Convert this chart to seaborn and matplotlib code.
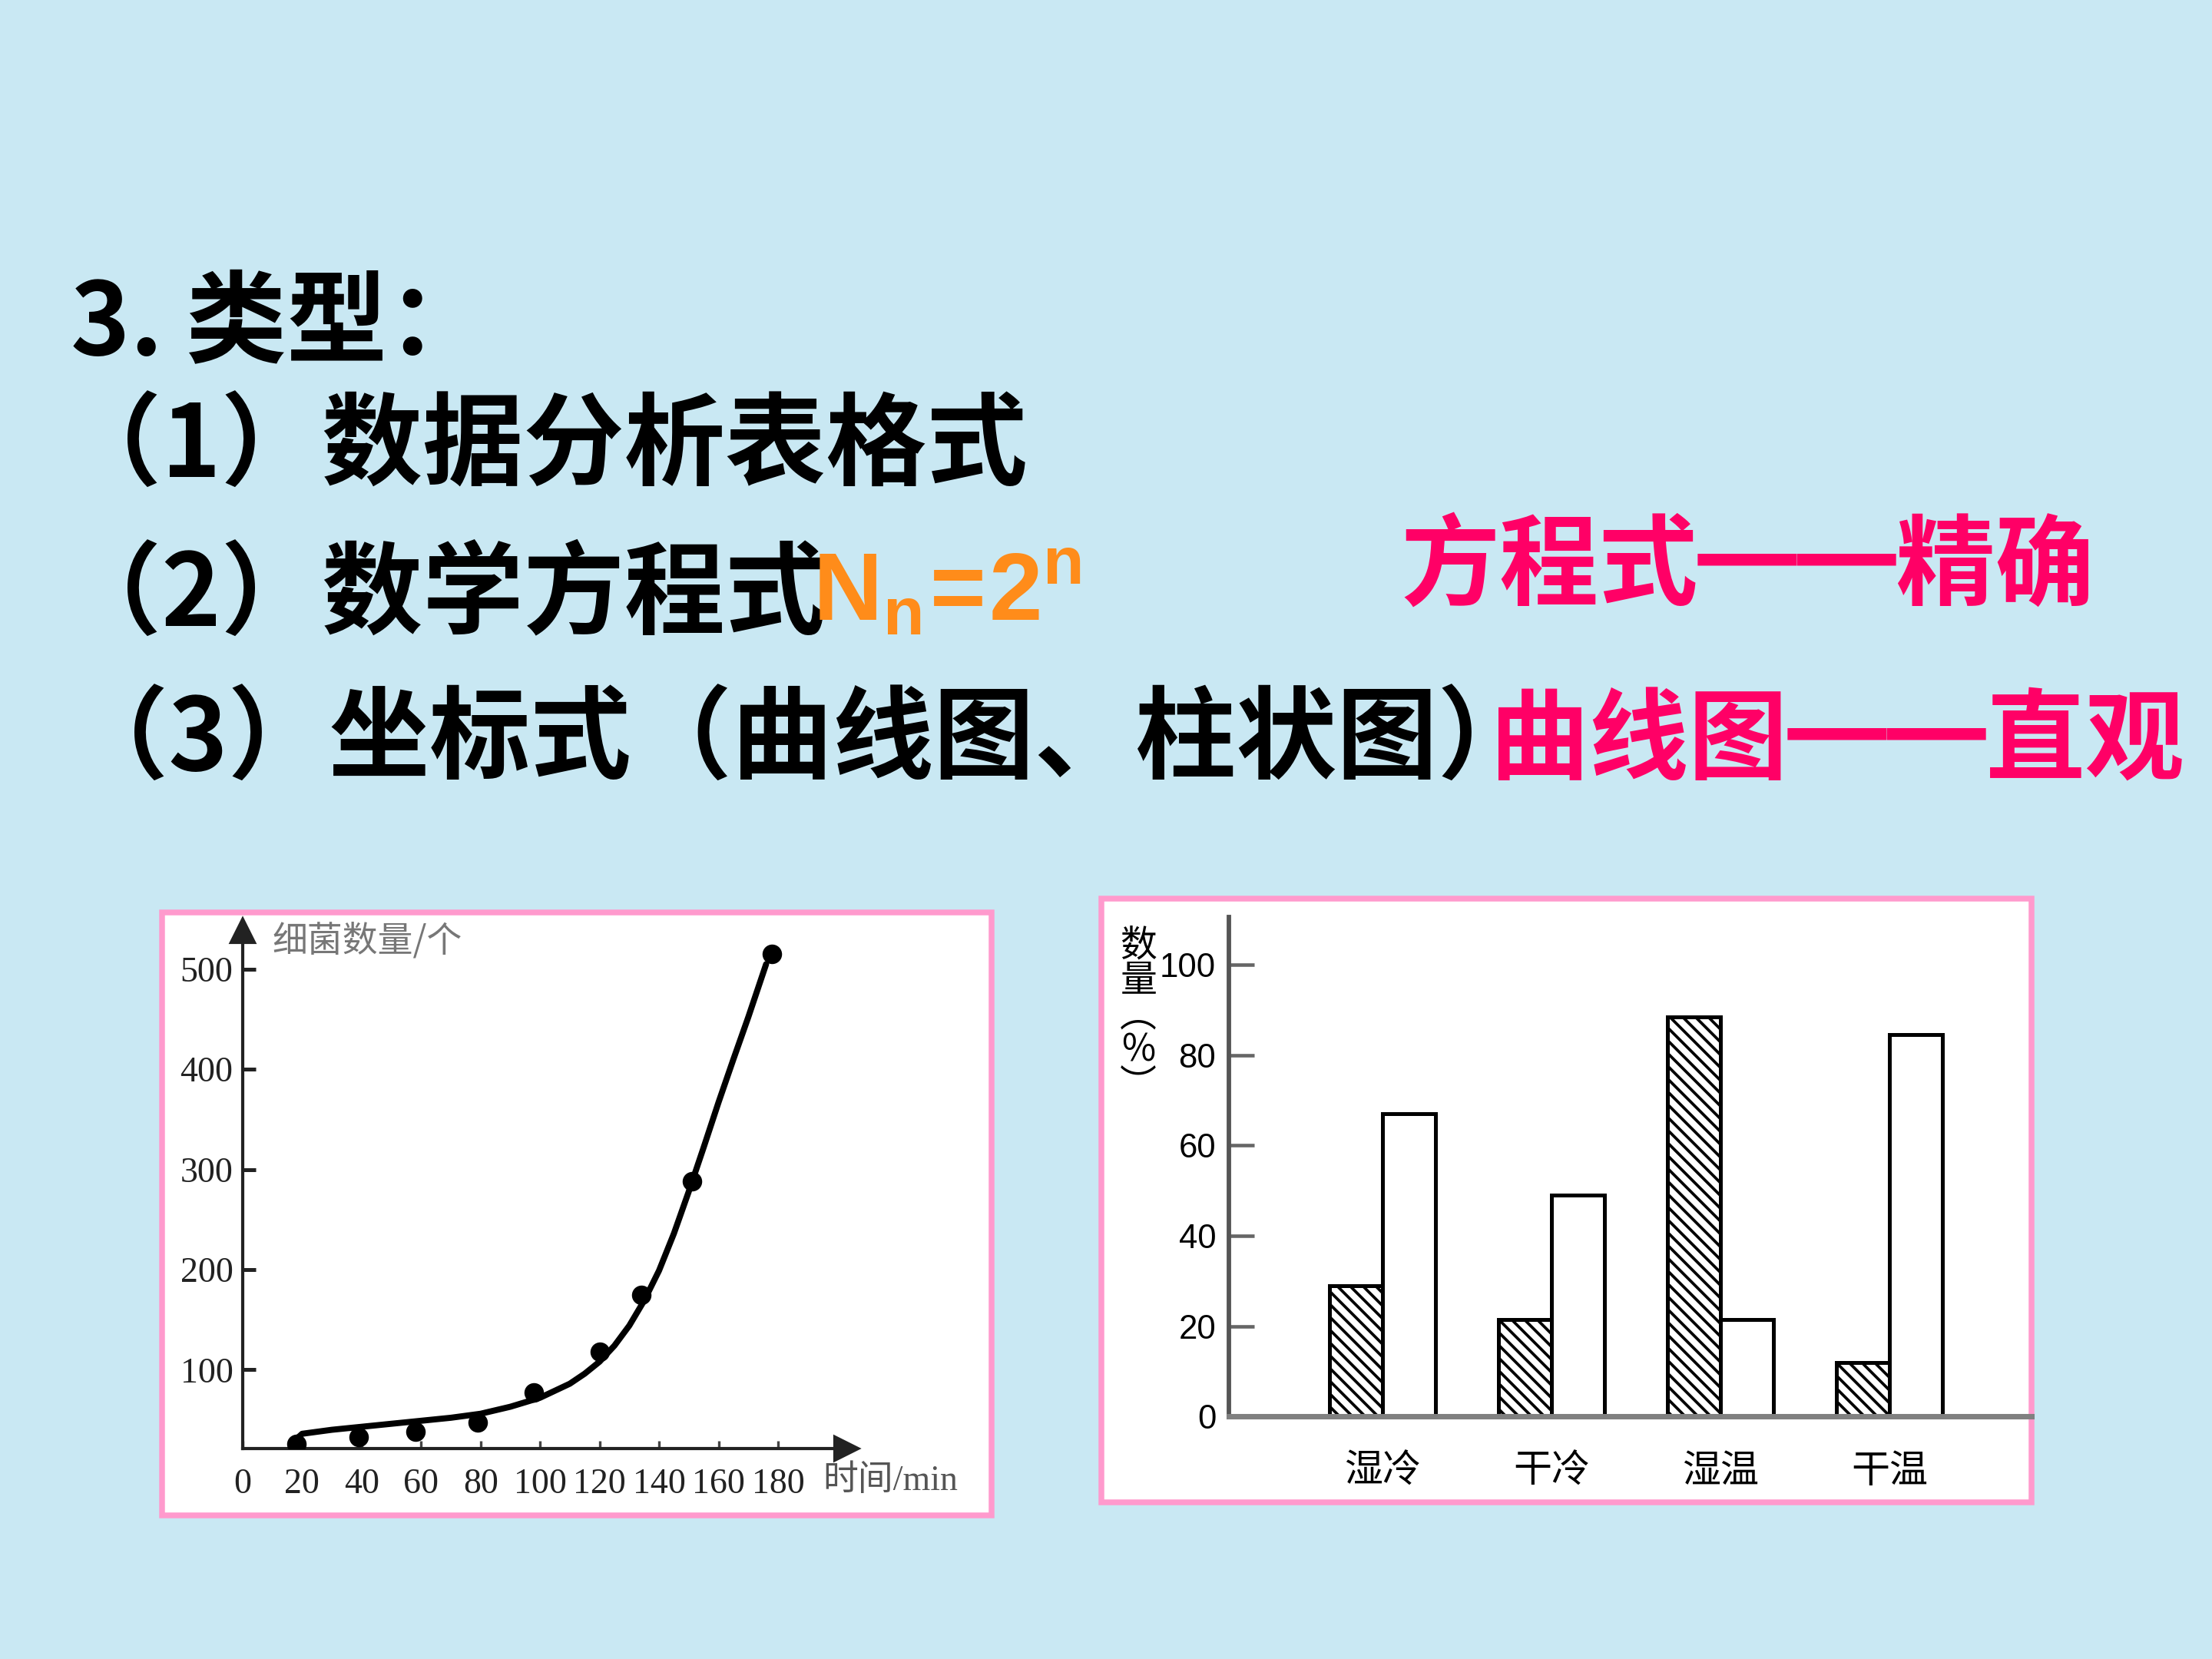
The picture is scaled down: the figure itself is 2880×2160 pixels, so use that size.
import pandas as pd
import seaborn as sns
import matplotlib.pyplot as plt
from matplotlib.patches import Rectangle

# left chart: bacteria growth curve
time_min = [18, 39, 58, 79, 98, 120, 134, 151, 178]
bacteria = [26, 33, 38, 47, 77, 118, 175, 288, 515]
curve_x = [17, 20, 30, 40, 50, 60, 70, 80, 90, 100, 110, 115, 120, 125, 130, 135, 140,
           145, 150, 155, 160, 165, 170, 176]
curve_y = [28, 36, 40, 43, 46, 49, 52, 56, 63, 72, 86, 96, 108, 124, 144, 169, 199,
           236, 278, 322, 367, 410, 452, 505]
x_ticks = [0, 20, 40, 60, 80, 100, 120, 140, 160, 180]
y_ticks = [100, 200, 300, 400, 500]

# right chart: bar groups
categories = ["湿冷", "干冷", "湿温", "干温"]
hatched_vals = [29, 21.5, 88.5, 12]
white_vals = [67, 49, 21.5, 84.5]
bar_ticks = [0, 20, 40, 60, 80, 100]

sns.set_theme(style="white")
plt.rcParams["font.family"] = ["Noto Sans CJK SC", "DejaVu Sans"]
plt.rcParams["mathtext.fontset"] = "custom"
plt.rcParams["mathtext.bf"] = "Liberation Sans:bold"
plt.rcParams["mathtext.rm"] = "Liberation Sans"
plt.rcParams["hatch.color"] = "black"
plt.rcParams["hatch.linewidth"] = 0.9

W, H = 1568, 1176
BG = "#C9E8F3"
PINK = "#FF9ACD"

fig = plt.figure(figsize=(9.6, 7.2), dpi=300, facecolor=BG)


def fx(px):
    return px / W


def fy(py):
    return 1 - py / H


# white panels with pink border
for x0, y0, x1, y1 in [(115, 647, 703, 1074), (781, 637, 1440, 1065)]:
    fig.patches.append(Rectangle((fx(x0), fy(y1)), fx(x1) - fx(x0), fy(y0) - fy(y1),
                                 transform=fig.transFigure, facecolor="white",
                                 edgecolor=PINK, linewidth=1.8, zorder=-5))

# slide text
black_lines = [
    (50, 231, "3. 类型："),
    (43, 318, "（1）数据分析表格式"),
    (43, 423, "（2）数学方程式"),
    (48, 526, "（3）坐标式（曲线图、柱状图）"),
]
for x, y, s in black_lines:
    fig.text(fx(x), fy(y), s, fontsize=31.5, weight="bold", color="black", va="center", ha="left")

fig.text(fx(576), fy(440), r"$\mathbf{N_n\!=\!2^n}$", fontsize=30, color="#FF8C1A",
         va="baseline", ha="left")
fig.text(fx(993), fy(403), "方程式━━精确", fontsize=31, weight="bold", color="#FF0066",
         va="center", ha="left")
fig.text(fx(1056), fy(527), "曲线图━━直观", fontsize=31, weight="bold", color="#FF0066",
         va="center", ha="left")

# left chart
ax1 = fig.add_axes([fx(172), fy(1027), fx(600) - fx(172), fy(660) - fy(1027)], zorder=2)
ax1.set_facecolor("none")
sns.lineplot(x=curve_x, y=curve_y, ax=ax1, color="black", linewidth=1.9, estimator=None)
sns.scatterplot(x=time_min, y=bacteria, ax=ax1, color="black", s=32, edgecolor="black", zorder=3)
ax1.set_xlim(0, 203)
ax1.set_ylim(21, 538)
ax1.set_xticks(x_ticks)
ax1.set_yticks(y_ticks)
for side in ["top", "right"]:
    ax1.spines[side].set_visible(False)
for side in ["left", "bottom"]:
    ax1.spines[side].set_color("#222222")
    ax1.spines[side].set_linewidth(1.0)
ax1.tick_params(axis="y", left=True, direction="in", length=4, width=1.2, pad=3, color="#222222")
ax1.tick_params(axis="x", bottom=True, direction="in", length=2.5, width=0.8, pad=6, color="#444444")
for lab in ax1.get_xticklabels() + ax1.get_yticklabels():
    lab.set_fontfamily("Liberation Serif")
    lab.set_fontsize(11)
    lab.set_color("#222222")
ax1.plot([0], [1], marker="^", ms=7, color="#222222", transform=ax1.transAxes, clip_on=False)
ax1.plot([1], [0], marker=">", ms=7, color="#222222", transform=ax1.transAxes, clip_on=False)
fig.text(fx(193), fy(667), "细菌数量/个", fontsize=11, color="#777777", va="center", ha="left")
fig.text(fx(583), fy(1050), "时间/min", fontsize=11, color="#555555", va="center", ha="left",
         family=["Liberation Serif", "Noto Sans CJK SC"])

# right chart
df = pd.DataFrame({
    "环境": categories * 2,
    "数量": hatched_vals + white_vals,
    "组": ["甲"] * len(categories) + ["乙"] * len(categories),
})
ax2 = fig.add_axes([fx(871), fy(1004), fx(1440) - fx(871), fy(650) - fy(1004)], zorder=2)
ax2.set_facecolor("none")
sns.barplot(data=df, x="环境", y="数量", hue="组", order=categories, hue_order=["甲", "乙"],
            palette=["white", "white"], saturation=1, edgecolor="black", linewidth=1.2,
            width=0.63, ax=ax2, legend=False)
for bar in ax2.containers[0]:
    bar.set_hatch("\\\\\\\\\\\\")
ax2.set_xlim(-0.91, 3.84)
ax2.set_ylim(0, 110.6)
ax2.set_yticks(bar_ticks)
ax2.set_xlabel("")
ax2.set_ylabel("")
for side in ["top", "right"]:
    ax2.spines[side].set_visible(False)
ax2.spines["left"].set_color("#555555")
ax2.spines["left"].set_linewidth(1.4)
ax2.spines["bottom"].set_color("#808080")
ax2.spines["bottom"].set_linewidth(1.7)
ax2.tick_params(axis="y", left=True, direction="in", length=8, width=1.1, pad=4, color="#666666")
ax2.tick_params(axis="x", length=0, pad=11)
for lab in ax2.get_yticklabels():
    lab.set_fontfamily("Liberation Sans")
    lab.set_fontsize(10.5)
    lab.set_color("black")
for lab in ax2.get_xticklabels():
    lab.set_fontsize(12)
    lab.set_color("black")
fig.text(fx(807), fy(720), "数\n量\n︵\n%\n︶", fontsize=11.5, ha="center", va="center",
         linespacing=0.9, color="black")

fig.savefig("out.png", dpi=300, facecolor=BG)
